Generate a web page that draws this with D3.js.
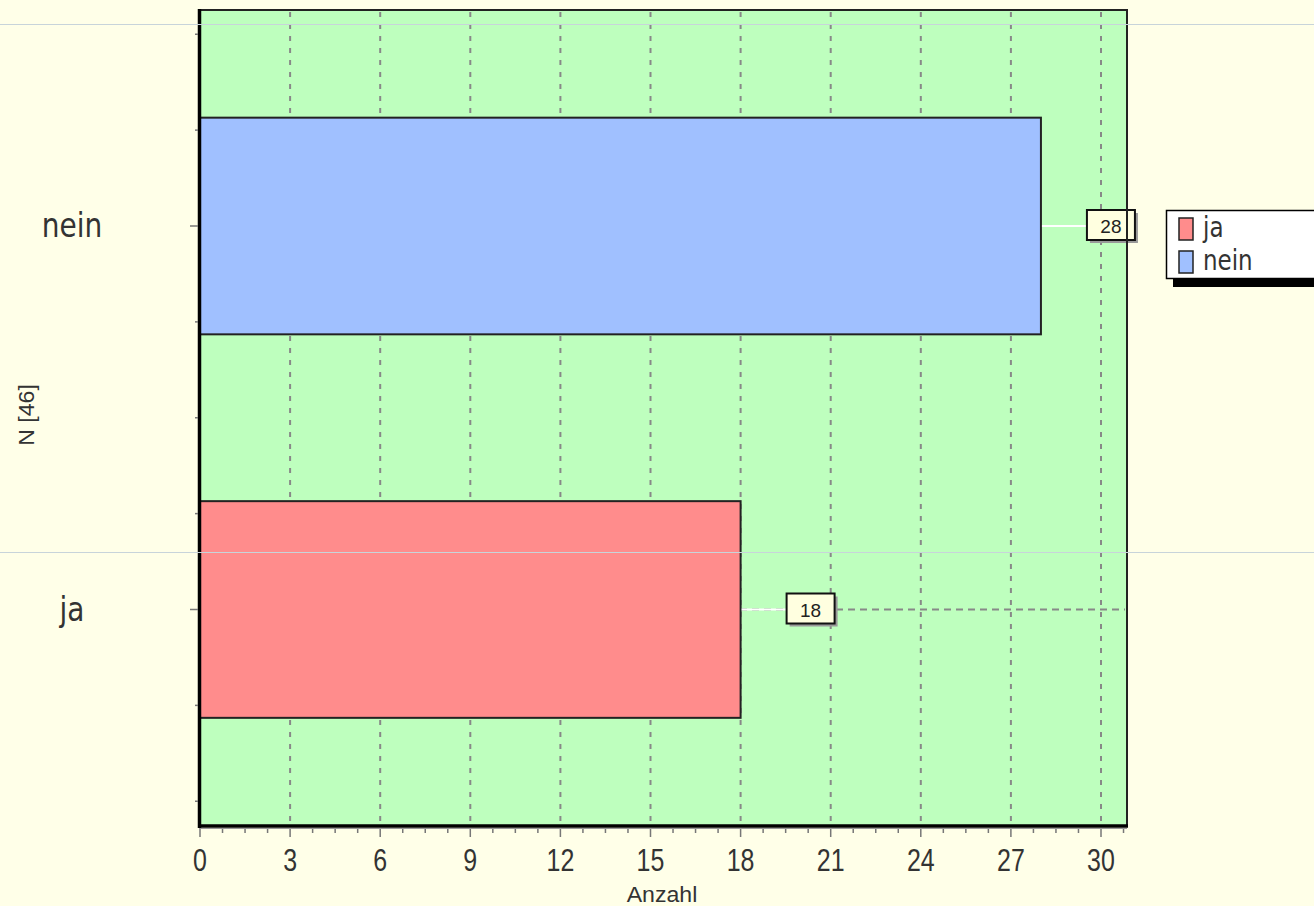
<!DOCTYPE html>
<html><head><meta charset="utf-8">
<script src="https://cdn.jsdelivr.net/npm/d3@7/dist/d3.min.js"></script>
<style>
html,body{margin:0;padding:0;background:#FFFFE8;overflow:hidden}
svg{display:block}
text{font-family:"Liberation Sans",Arial,sans-serif;fill:#222}
</style></head><body>
<svg id="c" width="1314" height="906"></svg>
<script>
const categories = ["ja", "nein"];
const values = [18, 28];
const colors = ["#FF8C8C", "#A0C0FF"];
const xTicks = [0, 3, 6, 9, 12, 15, 18, 21, 24, 27, 30];
const xTitle = "Anzahl";
const yTitle = "N [46]";

const svg = d3.select("#c");
const W = 1314, H = 906;
const L = 200, R = 1127, T = 10, B = 826;

const x = d3.scaleLinear().domain([0, 30]).range([L, 1101]);
const xMax = x.invert(R);
const y = d3.scaleLinear().domain([0, 1]).range([609.5, 226]);
const step = y(0) - y(1);
const barH = step * 0.565;

svg.append("rect").attr("width", W).attr("height", H).attr("fill", "#FFFFE8");

// plot area
svg.append("rect").attr("x", L).attr("y", T).attr("width", R - L).attr("height", B - T)
  .attr("fill", "#BEFFBE");

// vertical gridlines
svg.append("g").selectAll("line").data(xTicks.filter(d => d > 0)).join("line")
  .attr("x1", d => x(d)).attr("x2", d => x(d)).attr("y1", T + 2).attr("y2", B)
  .attr("stroke", "#888").attr("stroke-width", 2).attr("stroke-dasharray", "5,7");

// horizontal gridlines at categories
svg.append("g").selectAll("line").data(categories).join("line")
  .attr("x1", L).attr("x2", R - 2).attr("y1", (d, i) => y(i)).attr("y2", (d, i) => y(i))
  .attr("stroke", "#888").attr("stroke-width", 2).attr("stroke-dasharray", "7,5");

// bars
svg.append("g").selectAll("rect").data(values).join("rect")
  .attr("x", x(0)).attr("y", (d, i) => y(i) - barH / 2)
  .attr("width", d => x(d) - x(0)).attr("height", barH)
  .attr("fill", (d, i) => colors[i]).attr("stroke", "#222").attr("stroke-width", 2);

// value labels
const lab = svg.append("g").selectAll("g").data(values).join("g")
  .attr("transform", (d, i) => `translate(${x(d)},${y(i)})`);
lab.append("line").attr("x1", 1).attr("x2", 46).attr("y1", 0).attr("y2", 0)
  .attr("stroke", "#fff").attr("stroke-width", 2);
lab.append("rect").attr("x", 49).attr("y", -13).attr("width", 48).attr("height", 30)
  .attr("fill", "#999");
lab.append("rect").attr("x", 46).attr("y", -16).attr("width", 48).attr("height", 30)
  .attr("fill", "#FFFFE0").attr("stroke", "#111").attr("stroke-width", 2);
lab.append("text").attr("x", 70).attr("y", 7)
  .attr("text-anchor", "middle").style("font-size", "19px").text(d => d);

// frame
svg.append("rect").attr("x", L).attr("y", T).attr("width", R - L).attr("height", B - T)
  .attr("fill", "none").attr("stroke", "#222").attr("stroke-width", 2);
svg.append("line").attr("x1", L - 0.5).attr("x2", L - 0.5).attr("y1", T - 1).attr("y2", B + 2)
  .attr("stroke", "#000").attr("stroke-width", 3.5);
svg.append("line").attr("x1", L - 2).attr("x2", R + 1).attr("y1", B).attr("y2", B)
  .attr("stroke", "#000").attr("stroke-width", 3.5);

// x axis ticks
const minor = d3.range(0, xMax + 0.001, 0.75);
svg.append("g").selectAll("line").data(minor).join("line")
  .attr("x1", d => x(d)).attr("x2", d => x(d)).attr("y1", B + 2)
  .attr("y2", d => (Math.abs(d % 3) < 0.01) ? B + 11 : B + 7)
  .attr("stroke", "#777").attr("stroke-width", 1.5);
svg.append("line").attr("x1", L).attr("x2", R).attr("y1", B + 2.5).attr("y2", B + 2.5)
  .attr("stroke", "#999").attr("stroke-width", 1);
svg.append("g").selectAll("text").data(xTicks).join("text")
  .attr("transform", d => `translate(${x(d)},871) scale(0.78,1)`)
  .attr("text-anchor", "middle").style("font-size", "32px").style("fill", "#333").text(d => d);

// y axis ticks
const yMinor = d3.range(-0.5, 1.51, 0.25);
svg.append("g").selectAll("line").data(yMinor).join("line")
  .attr("y1", d => y(d)).attr("y2", d => y(d))
  .attr("x1", d => (Math.abs(d - Math.round(d)) < 0.01 && d >= 0) ? L - 10 : L - 5).attr("x2", L - 2)
  .attr("stroke", "#777").attr("stroke-width", 1.5);
svg.append("g").selectAll("text").data(categories).join("text")
  .attr("transform", (d, i) => `translate(72,${y(i) + 11}) scale(1,1.22)`)
  .attr("text-anchor", "middle").style("font-family", "'DejaVu Sans',sans-serif")
  .style("font-size", "28px").style("fill", "#333").text(d => d);

// axis titles
svg.append("text").attr("transform", "translate(662,902) scale(1.05,1)").attr("text-anchor", "middle")
  .style("font-size", "22px").style("fill", "#333").text(xTitle);
svg.append("text").attr("transform", "translate(34,415) rotate(-90) scale(1.05,1)").attr("text-anchor", "middle")
  .style("font-size", "22px").style("fill", "#333").text(yTitle);

// legend
const lg = svg.append("g").attr("transform", "translate(1166,210)");
lg.append("rect").attr("x", 7).attr("y", 7).attr("width", 200).attr("height", 70).attr("fill", "#000");
lg.append("rect").attr("x", 0.5).attr("y", 0.5).attr("width", 200).attr("height", 68)
  .attr("fill", "#fff").attr("stroke", "#000").attr("stroke-width", 1.5);
const li = lg.selectAll("g").data(categories).join("g")
  .attr("transform", (d, i) => `translate(0,${8 + i * 33})`);
li.append("rect").attr("x", 13).attr("y", 0).attr("width", 14).attr("height", 22)
  .attr("fill", (d, i) => colors[i]).attr("stroke", "#222").attr("stroke-width", 1.5);
li.append("text").attr("transform", "translate(37,19) scale(1,1.25)")
  .style("font-family", "'DejaVu Sans',sans-serif").style("font-size", "23px").style("fill", "#333").text(d => d);

// faint horizontal scan lines
svg.append("g").selectAll("line").data([24.5, 552.5]).join("line")
  .attr("x1", 0).attr("x2", W).attr("y1", d => d).attr("y2", d => d)
  .attr("stroke", "#C8D4DA").attr("stroke-width", 1);
</script>
</body></html>
